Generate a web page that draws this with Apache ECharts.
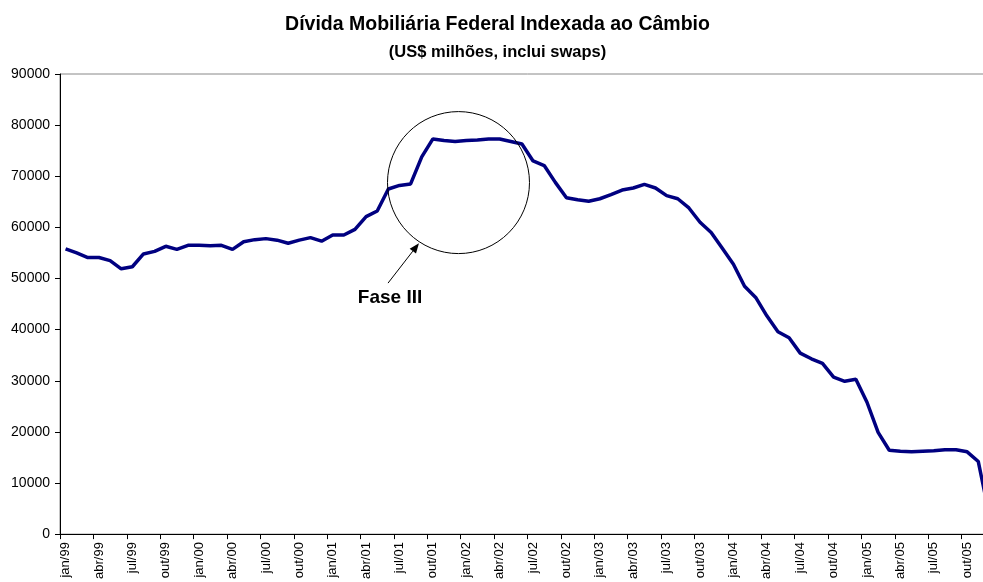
<!DOCTYPE html>
<html>
<head>
<meta charset="utf-8">
<script src="https://cdn.jsdelivr.net/npm/echarts@6/dist/echarts.min.js"></script>
<style>
html,body{margin:0;padding:0;background:#fff;overflow:hidden;width:983px;height:582px;}
#chart{width:995px;height:582px;}
</style>
</head>
<body>
<div id="chart"></div>
<script>
const titleText = 'Dívida Mobiliária Federal Indexada ao Câmbio';
const subtitleText = '(US$ milhões, inclui swaps)';
const annotationText = 'Fase III';

const months = [
'jan/99','fev/99','mar/99','abr/99','mai/99','jun/99','jul/99','ago/99','set/99','out/99','nov/99','dez/99',
'jan/00','fev/00','mar/00','abr/00','mai/00','jun/00','jul/00','ago/00','set/00','out/00','nov/00','dez/00',
'jan/01','fev/01','mar/01','abr/01','mai/01','jun/01','jul/01','ago/01','set/01','out/01','nov/01','dez/01',
'jan/02','fev/02','mar/02','abr/02','mai/02','jun/02','jul/02','ago/02','set/02','out/02','nov/02','dez/02',
'jan/03','fev/03','mar/03','abr/03','mai/03','jun/03','jul/03','ago/03','set/03','out/03','nov/03','dez/03',
'jan/04','fev/04','mar/04','abr/04','mai/04','jun/04','jul/04','ago/04','set/04','out/04','nov/04','dez/04',
'jan/05','fev/05','mar/05','abr/05','mai/05','jun/05','jul/05','ago/05','set/05','out/05','nov/05','dez/05'
];

const debtValues = [
55800,55000,54100,54100,53500,51900,52300,54800,55300,56300,55700,56500,
56500,56400,56500,55700,57200,57600,57800,57500,56900,57500,58000,57300,
58500,58500,59600,62100,63200,67500,68200,68500,73800,77300,77000,76800,
77000,77100,77300,77300,76800,76300,73000,72100,68800,65800,65400,65100,
65600,66400,67300,67700,68400,67700,66200,65600,63800,61000,59000,55900,
52800,48500,46300,42700,39600,38400,35400,34300,33400,30700,29900,30300,
25800,19900,16400,16200,16100,16200,16300,16500,16500,16100,14200,3600
];

const yTicks = [0,10000,20000,30000,40000,50000,60000,70000,80000,90000];

// annotation anchors in data space: [category position (fractional index), value]
const circleCenter = [35.3, 68760];
const arrowStart = [28.97, 49100];
const arrowTip = [31.75, 56900];
const labelAnchor = [29.15, 46200];

const FONT = '"Liberation Sans", Arial, sans-serif';
const chart = echarts.init(document.getElementById('chart'), null, {renderer:'canvas'});

chart.setOption({
  animation: false,
  backgroundColor: '#ffffff',
  title: [
    {text: titleText, left: 'center', top: 10,
     textStyle: {fontFamily: FONT, fontSize: 19.5, fontWeight: 'bold', color: '#000'}},
    {text: subtitleText, left: 'center', top: 39,
     textStyle: {fontFamily: FONT, fontSize: 16.5, fontWeight: 'bold', color: '#000'}}
  ],
  grid: {left: 60, right: 0, top: 74, bottom: 46, show: true, borderColor: '#888', borderWidth: 1},
  xAxis: {
    type: 'category',
    data: months,
    boundaryGap: true,
    axisLine: {lineStyle: {color: '#000', width: 1}},
    axisTick: {show: true, interval: 2, length: 5, lineStyle: {color: '#000'}},
    axisLabel: {interval: 2, rotate: 90, margin: 8, fontFamily: FONT, fontSize: 13, color: '#000'},
    splitLine: {show: false}
  },
  yAxis: {
    type: 'value',
    min: yTicks[0],
    max: yTicks[yTicks.length - 1],
    interval: yTicks[1] - yTicks[0],
    axisLine: {show: true, lineStyle: {color: '#000', width: 1}},
    axisTick: {show: true, length: 5, lineStyle: {color: '#000'}},
    axisLabel: {margin: 10, fontFamily: FONT, fontSize: 14, color: '#000', formatter: function (v) { return String(v); }},
    splitLine: {show: false}
  },
  series: [{
    type: 'line',
    data: debtValues,
    symbol: 'none',
    lineStyle: {color: '#000080', width: 3.5},
    itemStyle: {color: '#000080'}
  }]
});

// convert a fractional category index + value to pixels by interpolating between neighbouring categories
function px(p) {
  const i0 = Math.floor(p[0]), f = p[0] - i0;
  const q0 = chart.convertToPixel({xAxisIndex: 0, yAxisIndex: 0}, [i0, p[1]]);
  const q1 = chart.convertToPixel({xAxisIndex: 0, yAxisIndex: 0}, [i0 + 1, p[1]]);
  return [q0[0] + (q1[0] - q0[0]) * f, q0[1]];
}
const c = px(circleCenter);
const a0 = px(arrowStart);
const a1 = px(arrowTip);
const lb = px(labelAnchor);
const ang = Math.atan2(a1[1] - a0[1], a1[0] - a0[0]);
const hl = 10, hw = 4;
const base = [a1[0] - hl * Math.cos(ang), a1[1] - hl * Math.sin(ang)];
const head = [
  a1,
  [base[0] + hw * Math.sin(ang), base[1] - hw * Math.cos(ang)],
  [base[0] - hw * Math.sin(ang), base[1] + hw * Math.cos(ang)]
];

chart.setOption({
  graphic: [
    {type: 'circle', shape: {cx: c[0], cy: c[1], r: 71}, style: {fill: 'none', stroke: '#000', lineWidth: 1}, z: 100},
    {type: 'line', shape: {x1: a0[0], y1: a0[1], x2: base[0], y2: base[1]}, style: {stroke: '#000', lineWidth: 1}, z: 100},
    {type: 'polygon', shape: {points: head}, style: {fill: '#000'}, z: 100},
    {type: 'text', x: lb[0], y: lb[1], style: {text: annotationText, fontFamily: FONT, fontSize: 19, fontWeight: 'bold', fill: '#000', align: 'center', verticalAlign: 'middle'}, z: 100}
  ]
});
</script>
</body>
</html>
